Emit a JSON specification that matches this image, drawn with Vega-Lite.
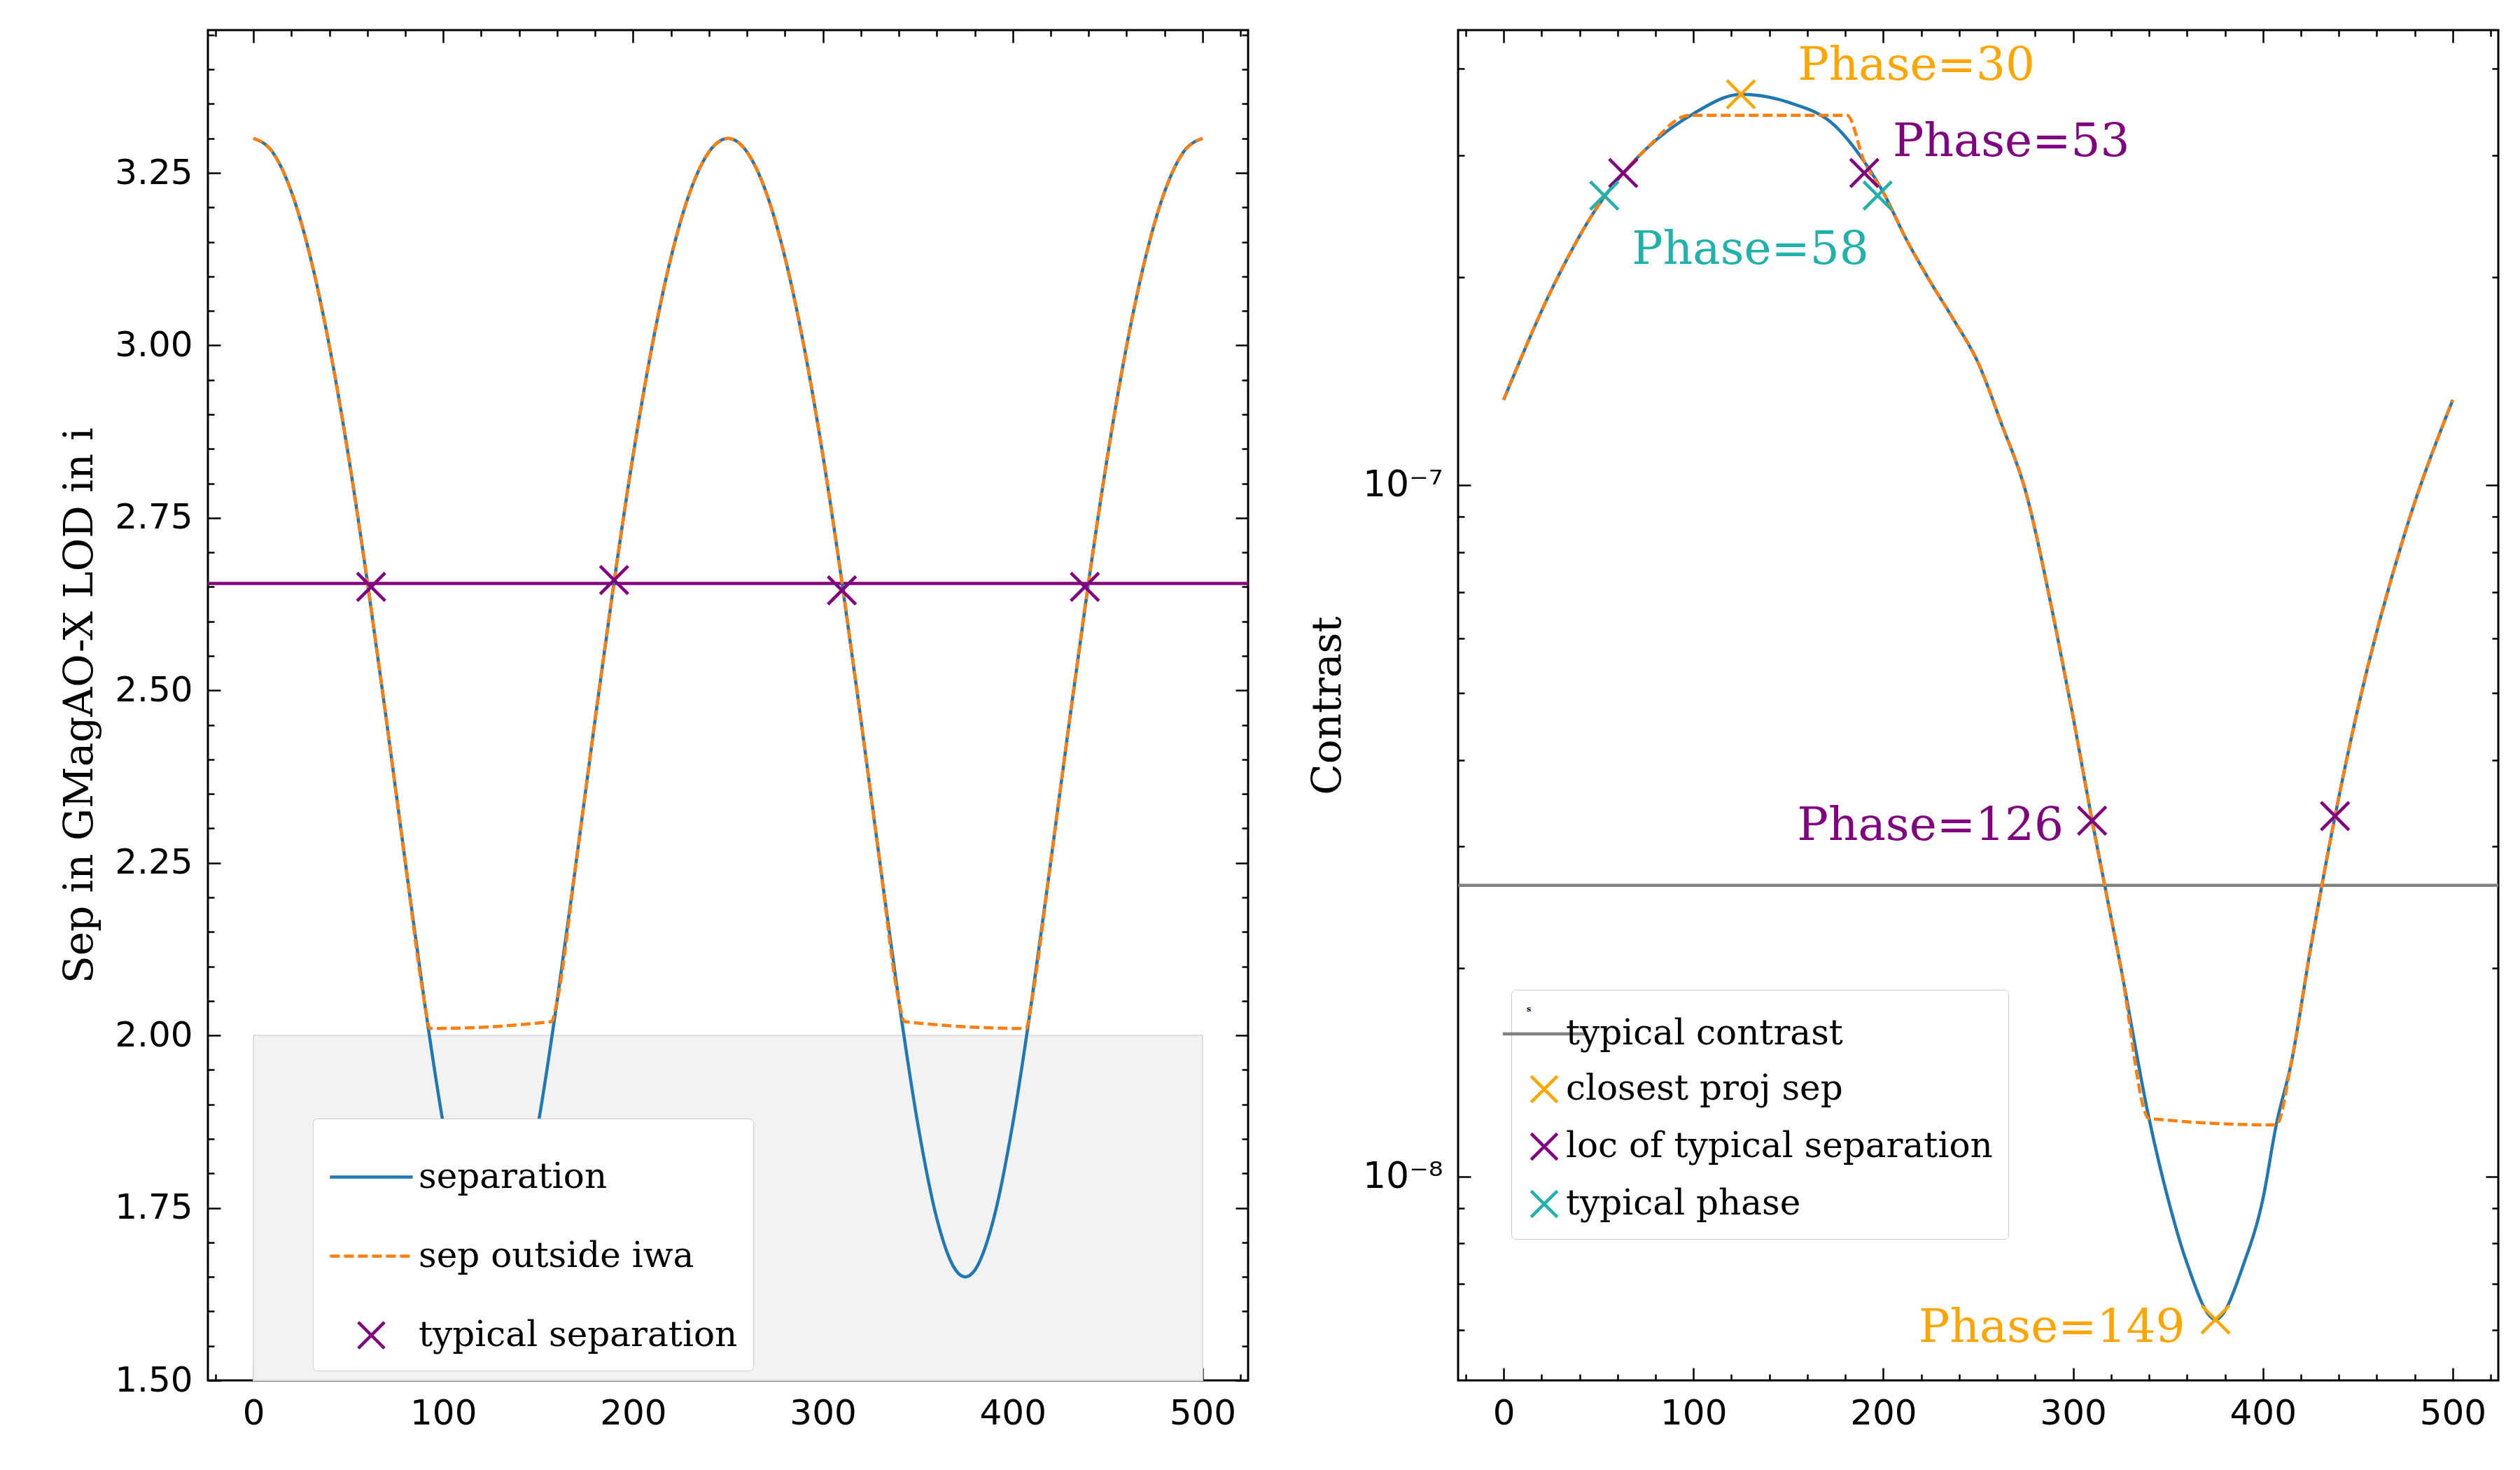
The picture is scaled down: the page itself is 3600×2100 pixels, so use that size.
{
  "$schema": "https://vega.github.io/schema/vega-lite/v6.json",
  "background": "white",
  "padding": {"left": 84, "top": 40, "right": 40, "bottom": 20},
  "config": {
    "view": {"stroke": "black", "strokeWidth": 3},
    "font": "DejaVu Serif",
    "axis": {
      "grid": false, "domain": false, "tickColor": "black", "tickWidth": 2.5,
      "labelFont": "DejaVu Sans", "labelFontSize": 50, "labelColor": "black",
      "titleFont": "DejaVu Serif", "titleFontSize": 58, "titleFontWeight": "normal", "titleColor": "black"
    },
    "legend": {
      "labelFont": "DejaVu Serif", "labelFontSize": 50, "labelColor": "black", "labelLimit": 1000,
      "fillColor": "white", "strokeColor": "#cccccc", "padding": 22, "cornerRadius": 6,
      "rowPadding": 26, "symbolStrokeWidth": 5, "labelOffset": 6,
      "symbolType": "stroke", "symbolSize": 14000
    }
  },
  "datasets": {
    "sep": [
      {"t": 0, "sep": 3.3}, {"t": 10, "sep": 3.2805}, {"t": 20, "sep": 3.2226}, {"t": 30, "sep": 3.1278},
      {"t": 40, "sep": 2.9991}, {"t": 50, "sep": 2.8405}, {"t": 60, "sep": 2.6576}, {"t": 70, "sep": 2.4579},
      {"t": 80, "sep": 2.2511}, {"t": 90, "sep": 2.0502}, {"t": 100, "sep": 1.8715}, {"t": 110, "sep": 1.7347},
      {"t": 120, "sep": 1.6597}, {"t": 125, "sep": 1.65}, {"t": 130, "sep": 1.6597}, {"t": 140, "sep": 1.7347},
      {"t": 150, "sep": 1.8715}, {"t": 160, "sep": 2.0502}, {"t": 170, "sep": 2.2511}, {"t": 180, "sep": 2.4579},
      {"t": 190, "sep": 2.6576}, {"t": 200, "sep": 2.8405}, {"t": 210, "sep": 2.9991}, {"t": 220, "sep": 3.1278},
      {"t": 230, "sep": 3.2226}, {"t": 240, "sep": 3.2805}, {"t": 250, "sep": 3.3}, {"t": 260, "sep": 3.2805},
      {"t": 270, "sep": 3.2226}, {"t": 280, "sep": 3.1278}, {"t": 290, "sep": 2.9991}, {"t": 300, "sep": 2.8405},
      {"t": 310, "sep": 2.6576}, {"t": 320, "sep": 2.4579}, {"t": 330, "sep": 2.2511}, {"t": 340, "sep": 2.0502},
      {"t": 350, "sep": 1.8715}, {"t": 360, "sep": 1.7347}, {"t": 370, "sep": 1.6597}, {"t": 375, "sep": 1.65},
      {"t": 380, "sep": 1.6597}, {"t": 390, "sep": 1.7347}, {"t": 400, "sep": 1.8715}, {"t": 410, "sep": 2.0502},
      {"t": 420, "sep": 2.2511}, {"t": 430, "sep": 2.4579}, {"t": 440, "sep": 2.6576}, {"t": 450, "sep": 2.8405},
      {"t": 460, "sep": 2.9991}, {"t": 470, "sep": 3.1278}, {"t": 480, "sep": 3.2226}, {"t": 490, "sep": 3.2805},
      {"t": 500, "sep": 3.3}
    ],
    "sepiwa": [
      {"t": 0, "sep": 3.3}, {"t": 10, "sep": 3.2805}, {"t": 20, "sep": 3.2226}, {"t": 30, "sep": 3.1278},
      {"t": 40, "sep": 2.9991}, {"t": 50, "sep": 2.8405}, {"t": 60, "sep": 2.6576}, {"t": 70, "sep": 2.4579},
      {"t": 80, "sep": 2.2511}, {"t": 90, "sep": 2.0502}, {"t": 93, "sep": 2.01}, {"t": 157, "sep": 2.02},
      {"t": 160, "sep": 2.0502}, {"t": 170, "sep": 2.2511}, {"t": 180, "sep": 2.4579},
      {"t": 190, "sep": 2.6576}, {"t": 200, "sep": 2.8405}, {"t": 210, "sep": 2.9991}, {"t": 220, "sep": 3.1278},
      {"t": 230, "sep": 3.2226}, {"t": 240, "sep": 3.2805}, {"t": 250, "sep": 3.3}, {"t": 260, "sep": 3.2805},
      {"t": 270, "sep": 3.2226}, {"t": 280, "sep": 3.1278}, {"t": 290, "sep": 2.9991}, {"t": 300, "sep": 2.8405},
      {"t": 310, "sep": 2.6576}, {"t": 320, "sep": 2.4579}, {"t": 330, "sep": 2.2511}, {"t": 340, "sep": 2.0502},
      {"t": 343, "sep": 2.02}, {"t": 407, "sep": 2.01}, {"t": 410, "sep": 2.0502},
      {"t": 420, "sep": 2.2511}, {"t": 430, "sep": 2.4579}, {"t": 440, "sep": 2.6576}, {"t": 450, "sep": 2.8405},
      {"t": 460, "sep": 2.9991}, {"t": 470, "sep": 3.1278}, {"t": 480, "sep": 3.2226}, {"t": 490, "sep": 3.2805},
      {"t": 500, "sep": 3.3}
    ],
    "sepmark": [
      {"t": 62, "sep": 2.65}, {"t": 190, "sep": 2.66}, {"t": 310, "sep": 2.645}, {"t": 438, "sep": 2.65}
    ],
    "con": [
      {"t": 0, "c": 1.328e-7}, {"t": 25, "c": 1.911e-7}, {"t": 50, "c": 2.54e-7}, {"t": 63, "c": 2.827e-7},
      {"t": 75, "c": 3.062e-7}, {"t": 100, "c": 3.445e-7}, {"t": 125, "c": 3.674e-7}, {"t": 150, "c": 3.577e-7},
      {"t": 175, "c": 3.3e-7}, {"t": 190, "c": 2.935e-7}, {"t": 200, "c": 2.65e-7}, {"t": 212, "c": 2.27e-7},
      {"t": 225, "c": 1.963e-7}, {"t": 237, "c": 1.736e-7}, {"t": 250, "c": 1.502e-7}, {"t": 262, "c": 1.232e-7},
      {"t": 275, "c": 9.79e-8}, {"t": 290, "c": 6.38e-8}, {"t": 300, "c": 4.62e-8},
      {"t": 310, "c": 3.27e-8}, {"t": 325, "c": 2.016e-8}, {"t": 340, "c": 1.213e-8}, {"t": 350, "c": 9.28e-9},
      {"t": 360, "c": 7.49e-9}, {"t": 375, "c": 6.21e-9}, {"t": 390, "c": 7.49e-9}, {"t": 400, "c": 9.28e-9},
      {"t": 407, "c": 1.187e-8}, {"t": 415, "c": 1.462e-8}, {"t": 425, "c": 2.128e-8}, {"t": 438, "c": 3.32e-8},
      {"t": 450, "c": 4.75e-8}, {"t": 475, "c": 8.56e-8}, {"t": 500, "c": 1.328e-7}
    ],
    "coniwa": [
      {"t": 0, "c": 1.328e-7}, {"t": 25, "c": 1.911e-7}, {"t": 50, "c": 2.54e-7}, {"t": 63, "c": 2.827e-7},
      {"t": 75, "c": 3.062e-7}, {"t": 98, "c": 3.426e-7}, {"t": 181, "c": 3.426e-7},
      {"t": 190, "c": 2.935e-7}, {"t": 200, "c": 2.65e-7}, {"t": 212, "c": 2.27e-7},
      {"t": 225, "c": 1.963e-7}, {"t": 237, "c": 1.736e-7}, {"t": 250, "c": 1.502e-7}, {"t": 262, "c": 1.232e-7},
      {"t": 275, "c": 9.79e-8}, {"t": 290, "c": 6.38e-8}, {"t": 300, "c": 4.62e-8},
      {"t": 310, "c": 3.27e-8}, {"t": 325, "c": 2.016e-8}, {"t": 340, "c": 1.213e-8},
      {"t": 407, "c": 1.187e-8}, {"t": 415, "c": 1.462e-8}, {"t": 425, "c": 2.128e-8}, {"t": 438, "c": 3.32e-8},
      {"t": 450, "c": 4.75e-8}, {"t": 475, "c": 8.56e-8}, {"t": 500, "c": 1.328e-7}
    ],
    "conmark": [
      {"t": 125, "c": 3.674e-7, "s": "closest proj sep"},
      {"t": 375, "c": 6.21e-9, "s": "closest proj sep"},
      {"t": 63, "c": 2.827e-7, "s": "loc of typical separation"},
      {"t": 190, "c": 2.827e-7, "s": "loc of typical separation"},
      {"t": 310, "c": 3.27e-8, "s": "loc of typical separation"},
      {"t": 438, "c": 3.32e-8, "s": "loc of typical separation"},
      {"t": 53, "c": 2.622e-7, "s": "typical phase"},
      {"t": 197, "c": 2.622e-7, "s": "typical phase"}
    ],
    "conlab": [
      {"t": 155, "c": 4.04e-7, "label": "Phase=30", "s": "closest proj sep", "a": "left"},
      {"t": 205, "c": 3.13e-7, "label": "Phase=53", "s": "loc of typical separation", "a": "left"},
      {"t": 130, "c": 2.186e-7, "label": "Phase=58", "s": "typical phase", "a": "center"},
      {"t": 295, "c": 3.21e-8, "label": "Phase=126", "s": "loc of typical separation", "a": "right"},
      {"t": 359, "c": 6.04e-9, "label": "Phase=149", "s": "closest proj sep", "a": "right"}
    ]
  },
  "resolve": {"scale": {"x": "independent", "y": "independent", "color": "independent"}, "legend": {"color": "independent"}},
  "spacing": 80,
  "hconcat": [
    {
      "width": 1486,
      "height": 1929,
      "resolve": {"axis": {"x": "independent", "y": "independent"}},
      "layer": [
        {
          "data": {"values": [{"x": 0, "x2": 500, "y": 1.5, "y2": 2.0}]},
          "mark": {"type": "rect", "fill": "#f2f2f2", "stroke": "#dcdcdc", "strokeWidth": 2},
          "encoding": {
            "x": {"field": "x", "type": "quantitative", "scale": {"domain": [-24, 524], "nice": false, "zero": false},
              "axis": {"orient": "bottom", "title": null, "values": [0, 100, 200, 300, 400, 500], "tickSize": -18, "labelPadding": 40}},
            "x2": {"field": "x2"},
            "y": {"field": "y", "type": "quantitative", "scale": {"domain": [1.5, 3.457], "nice": false, "zero": false},
              "axis": {"orient": "left", "title": "Sep in GMagAO-X LOD in i", "values": [1.5, 1.75, 2.0, 2.25, 2.5, 2.75, 3.0, 3.25], "format": ".2f", "tickSize": -18, "labelPadding": 40, "titlePadding": 20}},
            "y2": {"field": "y2"}
          }
        },
        {
          "data": {"values": [{"y": 2.655}]},
          "mark": {"type": "rule", "color": "purple", "strokeWidth": 4.5},
          "encoding": {"y": {"field": "y", "type": "quantitative", "axis": null}}
        },
        {
          "data": {"name": "sep"},
          "mark": {"type": "line", "strokeWidth": 4.5, "interpolate": "monotone"},
          "encoding": {
            "x": {"field": "t", "type": "quantitative", "axis": null},
            "y": {"field": "sep", "type": "quantitative", "axis": null},
            "color": {"datum": "separation", "type": "nominal",
              "scale": {"domain": ["separation", "sep outside iwa", "typical separation"], "range": ["#1f77b4", "#ff7f0e", "purple"]},
              "legend": {"title": null, "orient": "none", "legendX": 150, "legendY": 1555,
                "symbolType": "stroke", "symbolSize": 14000,
                "encode": {"symbols": {"update": {
                  "shape": {"signal": "datum.label == 'typical separation' ? 'M-1,-1L1,1M-1,1L1,-1' : 'stroke'"},
                  "size": {"signal": "datum.label == 'typical separation' ? 1400 : 14000"},
                  "strokeDash": {"signal": "datum.label == 'sep outside iwa' ? [14, 6] : [1, 0]"},
                  "strokeWidth": {"value": 4.5},
                  "fill": {"value": "transparent"}
                }}},
                "encoding": {"symbols": {"update": {
                  "shape": {"signal": "datum.label == 'typical separation' ? 'M-1,-1L1,1M-1,1L1,-1' : 'stroke'"},
                  "size": {"signal": "datum.label == 'typical separation' ? 1400 : 14000"},
                  "strokeDash": {"signal": "datum.label == 'sep outside iwa' ? [14, 6] : [1, 0]"},
                  "strokeWidth": {"value": 4.5},
                  "fill": {"value": "transparent"}
                }}}}}
          }
        },
        {
          "data": {"name": "sepiwa"},
          "mark": {"type": "line", "strokeWidth": 4.5, "strokeDash": [14, 6], "interpolate": "monotone"},
          "encoding": {
            "x": {"field": "t", "type": "quantitative", "axis": null},
            "y": {"field": "sep", "type": "quantitative", "axis": null},
            "color": {"datum": "sep outside iwa", "type": "nominal"}
          }
        },
        {
          "data": {"name": "sepmark"},
          "mark": {"type": "point", "shape": "M-1,-1L1,1M-1,1L1,-1", "filled": false, "size": 1600, "strokeWidth": 4.5, "opacity": 1},
          "encoding": {
            "x": {"field": "t", "type": "quantitative", "axis": null},
            "y": {"field": "sep", "type": "quantitative", "axis": null},
            "color": {"datum": "typical separation", "type": "nominal"}
          }
        },
        {
          "data": {"name": "sepmark"},
          "mark": {"type": "point", "opacity": 0},
          "encoding": {
            "x": {"field": "t", "type": "quantitative", "axis": {"orient": "top", "title": null, "labels": false, "values": [0, 100, 200, 300, 400, 500], "tickSize": -18}},
            "y": {"field": "sep", "type": "quantitative", "axis": {"orient": "right", "title": null, "labels": false, "values": [1.5, 1.75, 2.0, 2.25, 2.5, 2.75, 3.0, 3.25], "tickSize": -18}}
          }
        },
        {
          "data": {"name": "sepmark"},
          "mark": {"type": "point", "opacity": 0},
          "encoding": {
            "x": {"field": "t", "type": "quantitative", "axis": {"orient": "bottom", "title": null, "labels": false, "values": [-20, 20, 40, 60, 80, 120, 140, 160, 180, 220, 240, 260, 280, 320, 340, 360, 380, 420, 440, 460, 480, 520], "tickSize": -9}},
            "y": {"field": "sep", "type": "quantitative", "axis": {"orient": "left", "title": null, "labels": false, "values": [1.55, 1.6, 1.65, 1.7, 1.8, 1.85, 1.9, 1.95, 2.05, 2.1, 2.15, 2.2, 2.3, 2.35, 2.4, 2.45, 2.55, 2.6, 2.65, 2.7, 2.8, 2.85, 2.9, 2.95, 3.05, 3.1, 3.15, 3.2, 3.3, 3.35, 3.4, 3.45], "tickSize": -9}}
          }
        },
        {
          "data": {"name": "sepmark"},
          "mark": {"type": "point", "opacity": 0},
          "encoding": {
            "x": {"field": "t", "type": "quantitative", "axis": {"orient": "top", "title": null, "labels": false, "values": [-20, 20, 40, 60, 80, 120, 140, 160, 180, 220, 240, 260, 280, 320, 340, 360, 380, 420, 440, 460, 480, 520], "tickSize": -9}},
            "y": {"field": "sep", "type": "quantitative", "axis": {"orient": "right", "title": null, "labels": false, "values": [1.55, 1.6, 1.65, 1.7, 1.8, 1.85, 1.9, 1.95, 2.05, 2.1, 2.15, 2.2, 2.3, 2.35, 2.4, 2.45, 2.55, 2.6, 2.65, 2.7, 2.8, 2.85, 2.9, 2.95, 3.05, 3.1, 3.15, 3.2, 3.3, 3.35, 3.4, 3.45], "tickSize": -9}}
          }
        }
      ]
    },
    {
      "width": 1486,
      "height": 1929,
      "resolve": {"axis": {"x": "independent", "y": "independent"}},
      "layer": [
        {
          "data": {"values": [{"y": 2.636e-8}]},
          "mark": {"type": "rule", "strokeWidth": 4.5},
          "encoding": {
            "y": {"field": "y", "type": "quantitative", "scale": {"type": "log", "domain": [5.07e-9, 4.55e-7], "nice": false},
              "axis": {"orient": "left", "title": "Contrast", "values": [1e-8, 1e-7], "labelExpr": "datum.value < 5e-8 ? '10⁻⁸' : '10⁻⁷'", "tickSize": -18, "labelPadding": 40, "titlePadding": 20, "labelFontSize": 52}},
            "color": {"datum": "typical contrast", "type": "nominal",
              "scale": {"domain": ["typical contrast", "closest proj sep", "loc of typical separation", "typical phase"], "range": ["gray", "orange", "purple", "lightseagreen"]},
              "legend": {"title": null, "orient": "none", "legendX": 76, "legendY": 1371,
                "symbolType": "stroke", "symbolSize": 14000,
                "encode": {"symbols": {"update": {
                  "shape": {"signal": "datum.label == 'typical contrast' ? 'stroke' : 'M-1,-1L1,1M-1,1L1,-1'"},
                  "size": {"signal": "datum.label == 'typical contrast' ? 14000 : 1400"},
                  "strokeWidth": {"value": 4.5},
                  "fill": {"value": "transparent"}
                }}},
                "encoding": {"symbols": {"update": {
                  "shape": {"signal": "datum.label == 'typical contrast' ? 'stroke' : 'M-1,-1L1,1M-1,1L1,-1'"},
                  "size": {"signal": "datum.label == 'typical contrast' ? 14000 : 1400"},
                  "strokeWidth": {"value": 4.5},
                  "fill": {"value": "transparent"}
                }}}}}
          }
        },
        {
          "data": {"name": "con"},
          "mark": {"type": "line", "strokeWidth": 4.5, "interpolate": "monotone", "color": "#1f77b4"},
          "encoding": {
            "x": {"field": "t", "type": "quantitative", "scale": {"domain": [-24, 524], "nice": false, "zero": false},
              "axis": {"orient": "bottom", "title": null, "values": [0, 100, 200, 300, 400, 500], "tickSize": -18, "labelPadding": 40}},
            "y": {"field": "c", "type": "quantitative", "axis": null}
          }
        },
        {
          "data": {"name": "coniwa"},
          "mark": {"type": "line", "strokeWidth": 4.5, "strokeDash": [14, 6], "interpolate": "monotone", "color": "#ff7f0e"},
          "encoding": {
            "x": {"field": "t", "type": "quantitative", "axis": null},
            "y": {"field": "c", "type": "quantitative", "axis": null}
          }
        },
        {
          "data": {"name": "conmark"},
          "mark": {"type": "point", "shape": "M-1,-1L1,1M-1,1L1,-1", "filled": false, "size": 1600, "strokeWidth": 4.5, "opacity": 1},
          "encoding": {
            "x": {"field": "t", "type": "quantitative", "axis": null},
            "y": {"field": "c", "type": "quantitative", "axis": null},
            "color": {"field": "s", "type": "nominal"}
          }
        },
        {
          "data": {"name": "conlab"},
          "layer": [
            {"transform": [{"filter": "datum.a == 'left'"}], "mark": {"type": "text", "align": "left", "baseline": "middle", "fontSize": 66, "font": "DejaVu Serif"}},
            {"transform": [{"filter": "datum.a == 'center'"}], "mark": {"type": "text", "align": "center", "baseline": "middle", "fontSize": 66, "font": "DejaVu Serif"}},
            {"transform": [{"filter": "datum.a == 'right'"}], "mark": {"type": "text", "align": "right", "baseline": "middle", "fontSize": 66, "font": "DejaVu Serif"}}
          ],
          "encoding": {
            "x": {"field": "t", "type": "quantitative", "axis": null},
            "y": {"field": "c", "type": "quantitative", "axis": null},
            "text": {"field": "label"},
            "color": {"field": "s", "type": "nominal"}
          }
        },
        {
          "data": {"name": "conmark"},
          "mark": {"type": "point", "opacity": 0},
          "encoding": {
            "x": {"field": "t", "type": "quantitative", "axis": {"orient": "top", "title": null, "labels": false, "values": [0, 100, 200, 300, 400, 500], "tickSize": -18}},
            "y": {"field": "c", "type": "quantitative", "axis": {"orient": "right", "title": null, "labels": false, "values": [1e-8, 1e-7], "tickSize": -18}}
          }
        },
        {
          "data": {"name": "conmark"},
          "mark": {"type": "point", "opacity": 0},
          "encoding": {
            "x": {"field": "t", "type": "quantitative", "axis": {"orient": "bottom", "title": null, "labels": false, "values": [-20, 20, 40, 60, 80, 120, 140, 160, 180, 220, 240, 260, 280, 320, 340, 360, 380, 420, 440, 460, 480, 520], "tickSize": -9}},
            "y": {"field": "c", "type": "quantitative", "axis": {"orient": "left", "title": null, "labels": false, "values": [6e-9, 7e-9, 8e-9, 9e-9, 2e-8, 3e-8, 4e-8, 5e-8, 6e-8, 7e-8, 8e-8, 9e-8, 2e-7, 3e-7, 4e-7], "tickSize": -9}}
          }
        },
        {
          "data": {"name": "conmark"},
          "mark": {"type": "point", "opacity": 0},
          "encoding": {
            "x": {"field": "t", "type": "quantitative", "axis": {"orient": "top", "title": null, "labels": false, "values": [-20, 20, 40, 60, 80, 120, 140, 160, 180, 220, 240, 260, 280, 320, 340, 360, 380, 420, 440, 460, 480, 520], "tickSize": -9}},
            "y": {"field": "c", "type": "quantitative", "axis": {"orient": "right", "title": null, "labels": false, "values": [6e-9, 7e-9, 8e-9, 9e-9, 2e-8, 3e-8, 4e-8, 5e-8, 6e-8, 7e-8, 8e-8, 9e-8, 2e-7, 3e-7, 4e-7], "tickSize": -9}}
          }
        }
      ]
    }
  ]
}
